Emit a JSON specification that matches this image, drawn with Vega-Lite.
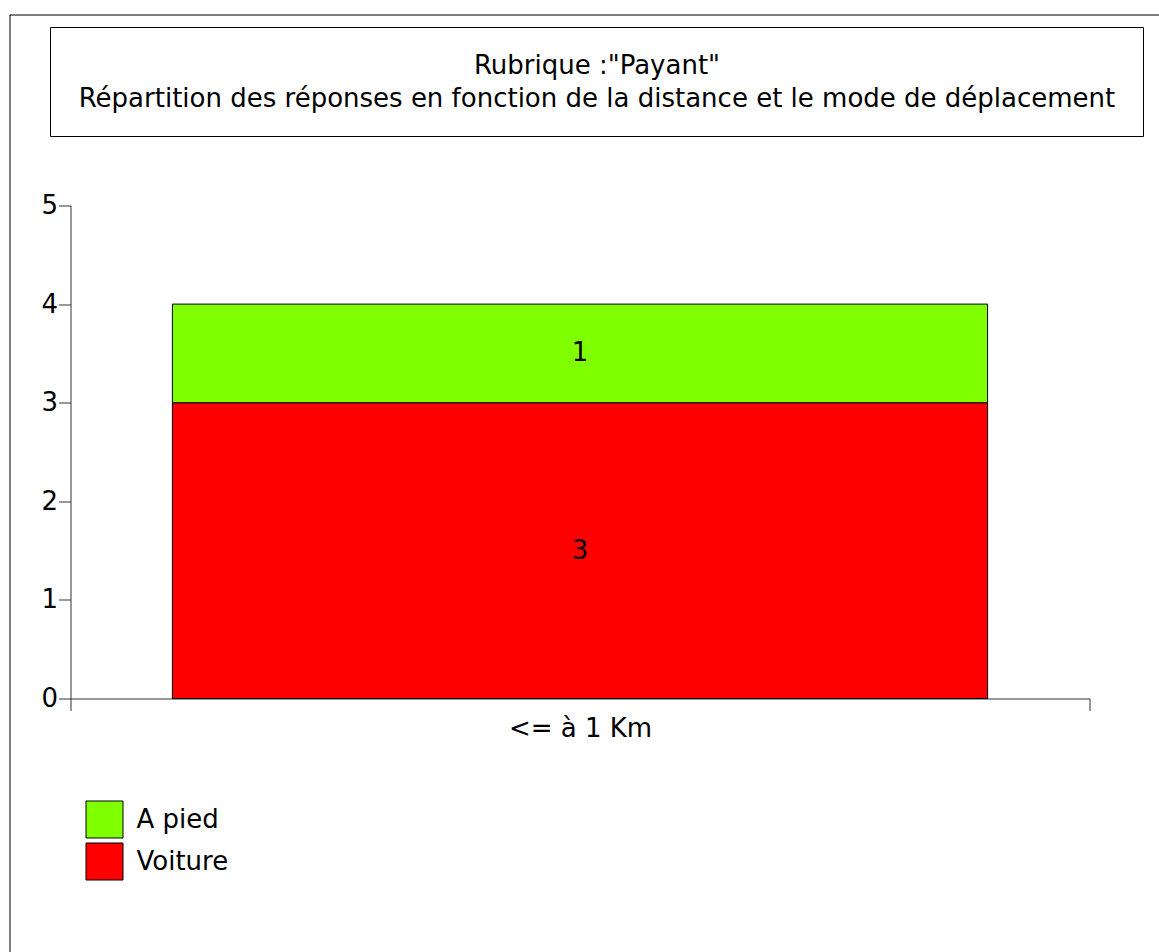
{
  "$schema": "https://vega.github.io/schema/vega-lite/v6.json",
  "width": 1149,
  "height": 937,
  "autosize": {"type": "none"},
  "padding": {"left": 9.5, "top": 14.5, "right": 0.5, "bottom": 0.5},
  "background": "white",
  "config": {
    "font": "DejaVu Sans",
    "view": {"stroke": "black", "strokeWidth": 1, "strokeDash": [1149, 2086, 937]}
  },
  "layer": [
    {
      "data": {
        "values": [
          {"distance": "<= à 1 Km", "mode": "Voiture", "n": 3},
          {"distance": "<= à 1 Km", "mode": "A pied", "n": 1}
        ]
      },
      "encoding": {
        "x": {
          "field": "distance",
          "type": "nominal",
          "scale": {"range": [61, 1080], "paddingInner": 0, "paddingOuter": 0},
          "axis": {
            "orient": "bottom",
            "offset": -253,
            "title": null,
            "tickBand": "extent",
            "tickSize": 12,
            "labelPadding": 5,
            "labelAngle": 0,
            "labelFontSize": 26,
            "labelColor": "black",
            "domainColor": "#333333",
            "tickColor": "#333333",
            "grid": false
          }
        },
        "y": {
          "field": "n",
          "type": "quantitative",
          "stack": "zero",
          "scale": {"domain": [0, 5], "range": [684, 191], "nice": false},
          "axis": {
            "orient": "left",
            "offset": -61,
            "title": null,
            "values": [0, 1, 2, 3, 4, 5],
            "tickSize": 12,
            "labelPadding": 1,
            "labelFontSize": 26,
            "labelColor": "black",
            "domainColor": "#333333",
            "tickColor": "#333333",
            "grid": false
          }
        },
        "order": {"field": "mode", "sort": "descending"}
      },
      "layer": [
        {
          "mark": {"type": "bar", "width": {"band": 0.8}, "stroke": "black", "strokeWidth": 1},
          "encoding": {
            "color": {
              "field": "mode",
              "type": "nominal",
              "scale": {"domain": ["A pied", "Voiture"], "range": ["#80FF00", "#FF0000"]},
              "legend": {
                "orient": "none",
                "legendX": 76,
                "legendY": 786,
                "title": null,
                "padding": 0,
                "symbolType": "square",
                "symbolSize": 1369,
                "symbolStrokeColor": "black",
                "symbolStrokeWidth": 1,
                "symbolOpacity": 1,
                "labelFontSize": 26,
                "labelColor": "black",
                "labelOffset": 13,
                "rowPadding": 0
              }
            }
          }
        },
        {
          "mark": {"type": "text", "fontSize": 26, "baseline": "middle", "color": "black"},
          "encoding": {
            "y": {"field": "n", "type": "quantitative", "stack": "zero", "bandPosition": 0.5},
            "detail": {"field": "mode"},
            "text": {"field": "n", "type": "quantitative"}
          }
        }
      ]
    },
    {
      "data": {
        "values": [
          {"titre": "Rubrique :\"Payant\"\nRépartition des réponses en fonction de la distance et le mode de déplacement"}
        ]
      },
      "encoding": {
        "x": {
          "field": "titre",
          "type": "nominal",
          "scale": {"range": [41, 1134], "paddingInner": 0, "paddingOuter": 0},
          "axis": null
        },
        "y": {
          "field": "titre",
          "type": "nominal",
          "scale": {"range": [13, 122], "paddingInner": 0, "paddingOuter": 0},
          "axis": null
        }
      },
      "layer": [
        {"mark": {"type": "rect", "fill": "white", "stroke": "black", "strokeWidth": 1}},
        {
          "mark": {"type": "text", "fontSize": 26, "lineBreak": "\n", "lineHeight": 33, "baseline": "middle", "align": "center", "dy": -16, "color": "black"},
          "encoding": {"text": {"field": "titre", "type": "nominal"}}
        }
      ]
    }
  ],
  "resolve": {
    "scale": {"x": "independent", "y": "independent"},
    "axis": {"x": "independent", "y": "independent"}
  }
}
